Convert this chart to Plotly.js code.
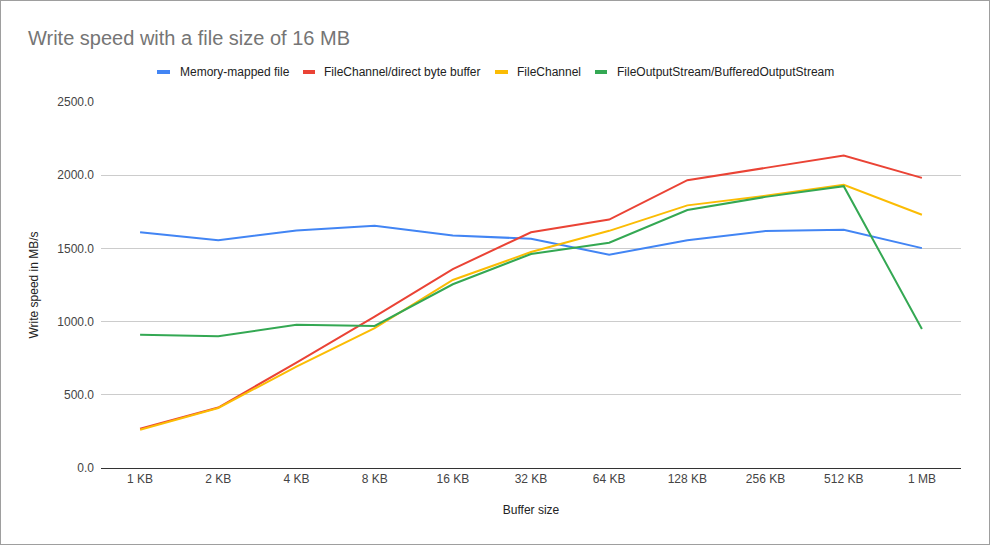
<!DOCTYPE html>
<html>
<head>
<meta charset="utf-8">
<script src="https://cdn.plot.ly/plotly-3.0.1.min.js"></script>
<style>
  html, body { margin: 0; padding: 0; background: #fff; }
  #wrap { position: relative; width: 990px; height: 545px; }
  #chart { width: 990px; height: 545px; }
  #frame { position: absolute; left: 0; top: 0; width: 990px; height: 545px; box-sizing: border-box; border: 1px solid #9e9e9e; pointer-events: none; }
</style>
</head>
<body>
<div id="wrap"><div id="chart"></div><div id="frame"></div></div>
<script>
const categories = ["1 KB", "2 KB", "4 KB", "8 KB", "16 KB", "32 KB", "64 KB", "128 KB", "256 KB", "512 KB", "1 MB"];
const memoryMapped = [1610, 1555, 1622, 1655, 1588, 1566, 1457, 1556, 1618, 1627, 1502];
const channelDirect = [268, 413, 720, 1034, 1359, 1610, 1697, 1966, 2050, 2135, 1982];
const fileChannel = [261, 410, 693, 955, 1284, 1475, 1620, 1794, 1859, 1934, 1730];
const bufferedStream = [911, 900, 979, 970, 1255, 1462, 1539, 1762, 1852, 1925, 950];
const seriesNames = ["Memory-mapped file", "FileChannel/direct byte buffer", "FileChannel", "FileOutputStream/BufferedOutputStream"];
const seriesColors = ["#4285F4", "#EA4335", "#FBBC04", "#34A853"];
const seriesValues = [memoryMapped, channelDirect, fileChannel, bufferedStream];

const FONT = "Arial, 'Liberation Sans', sans-serif";

// plot area geometry (pixels) used to place the custom legend
const W = 990, H = 545;
const M = { l: 101, r: 29, t: 102, b: 77 };
const plotW = W - M.l - M.r, plotH = H - M.t - M.b;
const px2x = p => (p - M.l) / plotW;
const py2y = p => (H - M.b - p) / plotH;

// legend layout: swatch left/right and text start, in pixels
const legendSwatches = [[157, 170], [303, 315], [495, 508], [595, 607]];
const legendTextX = [179, 323, 516, 616];
const legendY = 72;

const traces = seriesValues.map((vals, i) => ({
  type: "scatter",
  mode: "lines",
  name: seriesNames[i],
  x: categories,
  y: vals,
  line: { color: seriesColors[i], width: 2 },
  showlegend: false,
  hoverinfo: "x+y+name"
}));

const shapes = seriesNames.map((n, i) => ({
  type: "rect", xref: "paper", yref: "paper", layer: "above",
  x0: px2x(legendSwatches[i][0]), x1: px2x(legendSwatches[i][1]),
  y0: py2y(legendY + 2), y1: py2y(legendY - 2),
  fillcolor: seriesColors[i], line: { width: 0 }
}));

const annotations = seriesNames.map((n, i) => ({
  text: n, xref: "paper", yref: "paper",
  x: px2x(legendTextX[i]), y: py2y(legendY),
  xanchor: "left", yanchor: "middle", showarrow: false,
  xshift: -1,
  font: { family: FONT, size: 12, color: "#222222" }
}));

const layout = {
  width: W,
  height: H,
  margin: M,
  paper_bgcolor: "#ffffff",
  plot_bgcolor: "#ffffff",
  font: { family: FONT, size: 12, color: "#444444" },
  title: {
    text: "Write speed with a file size of 16 MB",
    x: 28 / W, xref: "container", xanchor: "left",
    y: 1 - 38 / H, yref: "container", yanchor: "middle",
    font: { family: FONT, size: 20, color: "#757575" }
  },
  showlegend: false,
  shapes: shapes,
  annotations: annotations,
  xaxis: {
    type: "category",
    range: [-0.5, 10.5],
    showgrid: false,
    showline: true,
    linecolor: "#333333",
    linewidth: 1,
    ticks: "",
    tickfont: { family: FONT, size: 12, color: "#444444" },
    title: { text: "Buffer size", standoff: 20, font: { family: FONT, size: 12, color: "#222222" } },
    fixedrange: true
  },
  yaxis: {
    range: [0, 2500],
    dtick: 500,
    tick0: 0,
    tickformat: ".1f",
    showgrid: true,
    gridcolor: "#cccccc",
    gridwidth: 1,
    zeroline: false,
    showline: false,
    ticks: "",
    ticklabelstandoff: 6,
    tickfont: { family: FONT, size: 12, color: "#444444" },
    title: { text: "Write speed in MB/s", standoff: 16, font: { family: FONT, size: 12, color: "#222222" } },
    fixedrange: true
  }
};

Plotly.newPlot("chart", traces, layout, { displayModeBar: false, staticPlot: true });
</script>
</body>
</html>
